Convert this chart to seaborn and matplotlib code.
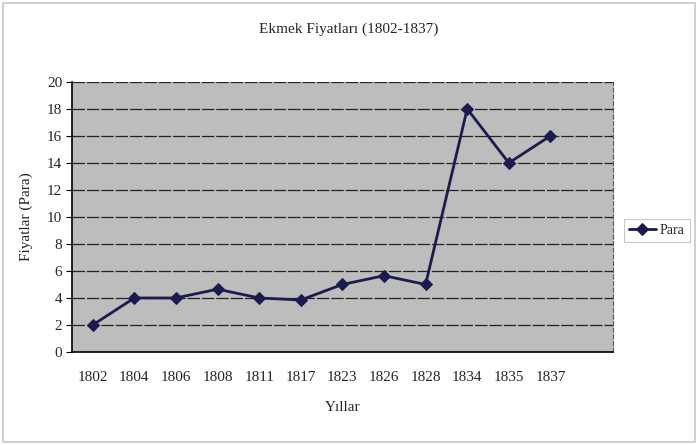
import matplotlib
matplotlib.use("Agg")
import matplotlib.pyplot as plt
import seaborn as sns
import pandas as pd
from matplotlib.patches import Rectangle

years = ["1802", "1804", "1806", "1808", "1811", "1817", "1823", "1826", "1828", "1834", "1835", "1837"]
prices = [2, 4, 4, 4.65, 4, 3.85, 5, 5.65, 5, 18, 14, 16]
yticks = [0, 2, 4, 6, 8, 10, 12, 14, 16, 18, 20]

title = "Ekmek Fiyatları (1802-1837)"
xlabel = "Yıllar"
ylabel = "Fiyatlar (Para)"
series_name = "Para"

sns.set_style("white")
plt.rcParams["font.family"] = ["Liberation Serif", "DejaVu Serif"]

df = pd.DataFrame({"Yil": years, "Fiyat": prices, "Seri": series_name})

fig = plt.figure(figsize=(6.98, 4.45), dpi=100)
ax = fig.add_axes([0.103, 0.209, 0.775, 0.607])

ax.set_facecolor("#bdbdbd")
line_color = "#1b1b4d"
sns.lineplot(data=df, x="Yil", y="Fiyat", hue="Seri", palette=[line_color],
             marker="D", markersize=6.5, linewidth=2, sort=False, ax=ax,
             markeredgecolor=line_color, legend=True)

ax.set_ylim(0, 20)
ax.set_xlim(-0.5, len(years) + 0.5)
ax.set_yticks(yticks)
ax.set_yticklabels([str(t) for t in yticks], fontsize=11)
ax.set_xticks(range(len(years)))
ax.set_xticklabels(years, fontsize=11)
ax.tick_params(axis="x", length=0, pad=14)
ax.tick_params(axis="y", length=4, direction="out", pad=3, left=True, color="black")

for t in yticks[1:]:
    ax.axhline(t, color="#222222", linewidth=0.9, linestyle=(0, (10, 1.5)), zorder=1)

for s in ["left", "bottom"]:
    ax.spines[s].set_color("black")
    ax.spines[s].set_linewidth(1.2)
ax.spines["top"].set_visible(False)
ax.spines["right"].set_color("#555555")
ax.spines["right"].set_linewidth(0.8)
ax.spines["right"].set_linestyle((0, (4, 2)))

ax.set_xlabel(xlabel, fontsize=11, labelpad=12)
ax.set_ylabel(ylabel, fontsize=11, labelpad=10)
fig.suptitle(title, fontsize=11, y=0.95)

leg = ax.legend(loc="center left", bbox_to_anchor=(1.015, 0.45), frameon=True,
                fontsize=10, handlelength=2.0, borderpad=0.35, fancybox=False,
                edgecolor="#bbbbbb", handletextpad=0.25, borderaxespad=0.2)
leg.get_frame().set_linewidth(0.8)

fig.patches.append(Rectangle((0.004, 0.006), 0.992, 0.988, transform=fig.transFigure,
                             fill=False, edgecolor="#c8c8c8", linewidth=1.2))

fig.savefig("out.png", dpi=100)
